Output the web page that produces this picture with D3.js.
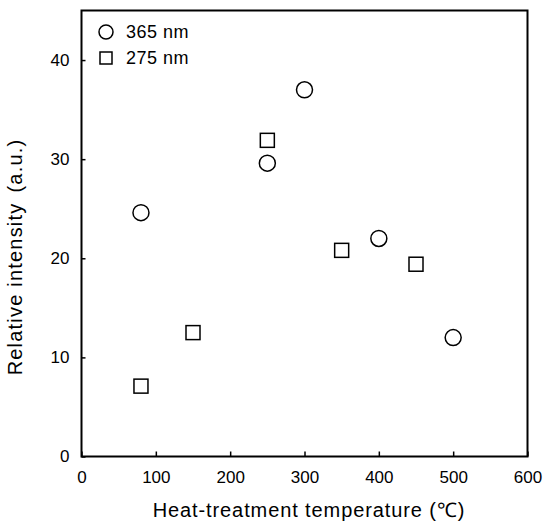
<!DOCTYPE html>
<html>
<head>
<meta charset="utf-8">
<script src="https://cdn.jsdelivr.net/npm/d3@7"></script>
<style>
  body { margin: 0; background: #fff; }
  svg { display: block; font-family: "Liberation Sans", Arial, sans-serif; }
</style>
</head>
<body>
<div id="chart"></div>
<script>
'use strict'

// data
const temps365 = [80, 250, 300, 400, 500]
const vals365 = [24.6, 29.6, 37.0, 22.0, 12.0]
const temps275 = [80, 150, 250, 350, 450]
const vals275 = [7.1, 12.5, 31.9, 20.8, 19.4]
const xTicks = [0, 100, 200, 300, 400, 500, 600]
const yTicks = [0, 10, 20, 30, 40]
const legendLabels = ['365 nm', '275 nm']

const svgWidth = 555
const svgHeight = 523
const margin = { left: 81.5, right: 27.5, top: 10.5, bottom: 66.5 }
const width = svgWidth - margin.left - margin.right
const height = svgHeight - margin.top - margin.bottom

const svg = d3.select('#chart')
    .append('svg')
    .attr('width', svgWidth)
    .attr('height', svgHeight)

const g = svg.append('g')
    .attr('transform', `translate(${margin.left},${margin.top})`)

// scales
const x = d3.scaleLinear().domain([0, 600]).range([0, width])
const y = d3.scaleLinear().domain([0, 45]).range([height, 0])

// frame
g.append('rect')
    .attr('x', 0).attr('y', 0)
    .attr('width', width).attr('height', height)
    .attr('fill', 'none')
    .attr('stroke', '#000')
    .attr('stroke-width', 2)

// axes, ticks point inward
const xAxis = g.append('g')
    .attr('transform', `translate(0,${height})`)
    .call(d3.axisBottom(x).tickValues(xTicks).tickSizeInner(-5).tickSizeOuter(0).tickPadding(14))
xAxis.select('.domain').remove()
xAxis.selectAll('line').attr('stroke-width', 1.5)
xAxis.selectAll('text').attr('font-size', 17).attr('fill', '#000')

const yAxis = g.append('g')
    .call(d3.axisLeft(y).tickValues(yTicks).tickSizeInner(-4).tickSizeOuter(0).tickPadding(12))
yAxis.select('.domain').remove()
yAxis.selectAll('line').attr('stroke-width', 1.5)
yAxis.selectAll('text').attr('font-size', 17).attr('fill', '#000')

// axis titles
svg.append('text')
    .attr('x', 309)
    .attr('y', 517)
    .attr('text-anchor', 'middle')
    .attr('font-size', 20)
    .attr('letter-spacing', 0.9)
    .text('Heat-treatment temperature (℃)')

const yTitle = svg.append('text')
    .attr('transform', 'translate(22,257) rotate(-90)')
    .attr('text-anchor', 'middle')
    .attr('font-size', 20)
    .attr('letter-spacing', 1.2)
yTitle.append('tspan').text('Relative intensity')
yTitle.append('tspan').attr('dx', 10).text('(a.u.)')

// points
const pts365 = temps365.map((t, i) => ({ t: t, v: vals365[i] }))
const pts275 = temps275.map((t, i) => ({ t: t, v: vals275[i] }))

g.selectAll('.circ')
    .data(pts365)
    .enter().append('circle')
    .attr('class', 'circ')
    .attr('cx', d => x(d.t))
    .attr('cy', d => y(d.v))
    .attr('r', 8)
    .attr('fill', '#fff')
    .attr('stroke', '#000')
    .attr('stroke-width', 1.5)

const sq = 14
g.selectAll('.sq')
    .data(pts275)
    .enter().append('rect')
    .attr('class', 'sq')
    .attr('x', d => x(d.t) - sq / 2)
    .attr('y', d => y(d.v) - sq / 2)
    .attr('width', sq)
    .attr('height', sq)
    .attr('fill', '#fff')
    .attr('stroke', '#000')
    .attr('stroke-width', 1.5)

// legend
const legend = svg.append('g').attr('transform', 'translate(106,32)')
legend.append('circle')
    .attr('cx', 0).attr('cy', 0).attr('r', 7)
    .attr('fill', '#fff').attr('stroke', '#000').attr('stroke-width', 1.5)
legend.append('rect')
    .attr('x', -6).attr('y', 20).attr('width', 12).attr('height', 12)
    .attr('fill', '#fff').attr('stroke', '#000').attr('stroke-width', 1.5)
legend.selectAll('text')
    .data(legendLabels)
    .enter().append('text')
    .attr('x', 20)
    .attr('y', (d, i) => 6 + i * 26)
    .attr('font-size', 18)
    .attr('letter-spacing', 0.5)
    .text(d => d)
</script>
</body>
</html>
